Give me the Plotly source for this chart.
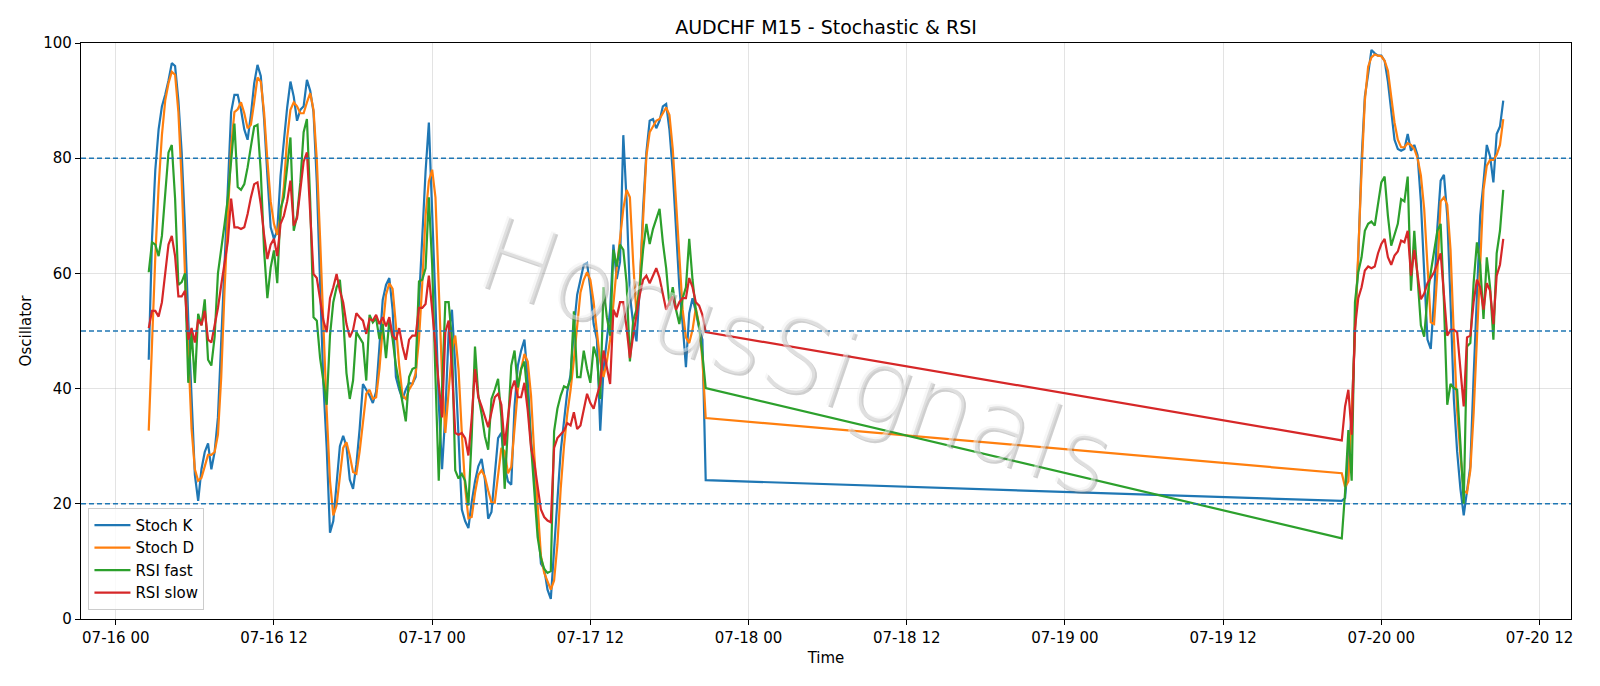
import pandas as pd
import plotly.graph_objects as go

# ---------------- data ----------------
seg1_start = "2020-07-16 02:30"
seg1_count = 170
seg2_start = "2020-07-19 21:00"
seg2_count = 50

stoch_k_1 = [
    45, 66, 78, 85, 89, 91, 93.5, 96.5, 96, 90,
    81, 68, 52, 39, 25, 20.5, 26, 29, 30.5, 26,
    29, 35, 48, 61, 75, 88, 91, 91, 88.4, 85,
    83.2, 87.5, 93, 96.2, 94.3, 86.8, 77, 68, 66, 67.4,
    77, 83.6, 88.8, 93.3, 90.7, 86.5, 88.4, 89, 93.6, 91.7,
    88, 75.8, 58.3, 40.8, 29.7, 15, 17, 23.3, 30, 31.8,
    30, 24.2, 22.6, 26.8, 33, 40.8, 39.8, 38.8, 37.5, 39.5,
    47.3, 55.4, 58, 59.2, 53.7, 42, 39.8, 38.2, 39.8, 41,
    40.8, 42, 55, 66.7, 77.7, 86.2, 72, 55, 37.5, 26,
    35.6, 49.8, 53.7, 44, 31.7, 19, 17, 15.8, 20.3, 23.9,
    26.5, 27.8, 24.2, 17.4, 18.6, 25.2, 31.4, 32.3, 26.5, 23.9,
    23.3, 36.9, 44, 46.6, 48.5, 41.7, 31, 25.2, 18, 9.6,
    8.7, 5.1, 3.5, 11.3, 20.6, 29.1, 34.6, 39.5, 42.4, 50.5,
    56.3, 58.9, 61.5, 61.8, 57.3, 51.2, 48.5, 32.7, 43.4, 48.5,
    53.7, 65, 59, 62, 84, 72.5, 56.3, 51.2, 48.2, 57.6,
    71.2, 81, 86.5, 86.8, 85.2, 86.5, 89, 89.4, 84.9, 77.7,
    68.6, 57.6, 51.2, 43.7, 53.1, 55.7, 53.4, 50.5, 48.5, 24.1,
]
stoch_k_2 = [
    20.5, 21, 28, 35.6, 49.8, 62.8, 79.7, 90.7, 94.6, 98.8,
    98.2, 97.8, 97.8, 96.9, 93.3, 87.8, 83.2, 81.6, 81.3, 81.6,
    84.2, 81.3, 82.3, 80.5, 72.5, 60.2, 48.5, 46.9, 55.7, 68,
    76.1, 77.1, 70, 55, 38.2, 29.1, 22.6, 18, 22.6, 26.5,
    42, 56.3, 70, 75.8, 82.3, 80.3, 75.8, 84.2, 85.5, 90,
]

stoch_d_1 = [
    32.7, 48, 63, 75, 84, 90, 93, 95, 94.5, 88,
    76, 60, 45, 33, 26, 24, 24.5, 26.5, 28.5, 28.5,
    29, 32, 42, 57, 70, 82, 88, 88.5, 89.7, 87.8,
    85.2, 85.8, 89.7, 94, 93.3, 88, 79.7, 72.5, 68.6, 66.7,
    70, 75, 83.5, 88.4, 89.7, 89, 87.8, 87.8, 89.7, 91.3,
    88.4, 79.7, 66, 50.5, 36.2, 24, 18, 19.7, 25.2, 29.7,
    30.7, 28.4, 25.5, 25.2, 29.1, 34.3, 39.1, 39.8, 38.2, 38.5,
    43.4, 50.5, 56.3, 58.3, 57.3, 51, 44, 38.8, 38.2, 39.8,
    40.8, 42.7, 48.5, 58.3, 70, 76, 78, 73.2, 56.3, 42,
    32.3, 38.8, 46.6, 49.2, 43.4, 32.3, 22.9, 17.5, 17.7, 21.9,
    25, 25.8, 24.7, 22.3, 20.2, 20.2, 25.5, 29.7, 29.1, 25.3,
    26.4, 32.7, 39.8, 43.4, 46, 44.7, 38.8, 28.4, 18.7, 11,
    8, 6.4, 5.1, 6.7, 12.9, 22.6, 30, 35.6, 39.8, 45,
    51.5, 56.7, 58.9, 60.2, 58.9, 55, 49.8, 44.7, 42, 44.7,
    48.5, 55, 61, 66, 71.2, 74.5, 73.2, 61.8, 52.8, 58.3,
    69.3, 80.3, 84.5, 85.5, 86.5, 86.8, 87.8, 88.8, 87.5, 81.6,
    72.5, 62.2, 53.7, 48.9, 47.9, 50.2, 54, 51, 45, 34.9,
]
stoch_d_2 = [
    25.3, 22.9, 23.9, 35.6, 49.8, 64.8, 77.7, 90, 95.9, 97.5,
    98, 97.8, 97.7, 96.9, 95.2, 90.7, 86.2, 83.2, 81.9, 81.9,
    82.6, 82.3, 81.6, 80, 77, 71.2, 61.5, 51.5, 51.2, 60.2,
    72.5, 73.2, 71.9, 64.1, 49.2, 36.2, 28.4, 22.3, 21.9, 25.8,
    35.6, 48.5, 64.1, 74.5, 78.7, 79.7, 79.7, 80.6, 82.3, 86.8,
]

rsi_fast_1 = [
    60.2, 65.4, 65, 63, 66.5, 74, 81, 82.3, 73, 58,
    58.5, 60, 41, 50, 41, 53, 51, 55.5, 45, 44,
    49, 60, 64, 68.5, 73, 80, 86, 75, 74.5, 75.5,
    78.4, 82, 85.5, 85.8, 77.7, 64, 55.7, 61, 64, 58.3,
    71.2, 73.2, 79, 83.6, 67.4, 70, 75.8, 84.5, 86.8, 72.5,
    52.4, 51.8, 45.3, 40.8, 37.2, 49.2, 55, 57.6, 58.9, 52.4,
    42.7, 38.2, 41.4, 49.8, 48.9, 47.9, 41.4, 52.8, 51.5, 52.2,
    48.6, 51.2, 45.3, 51.8, 48.6, 44, 40.8, 37.5, 34.3, 42,
    43.4, 43.7, 58.6, 58.9, 60.9, 73.2, 61.5, 42, 24, 40,
    55, 55, 48.5, 25.8, 24.4, 25.2, 24, 19.7, 31.7, 47.3,
    38.8, 35.6, 31.7, 29.4, 38.2, 39.8, 41.7, 35, 22.6, 33.6,
    44, 46.6, 40.2, 43.4, 44.7, 38.2, 29.7, 21, 14.2, 10.6,
    8.7, 8, 8.3, 32.6, 36.5, 38.8, 40.4, 40.1, 41.7, 53.4,
    42, 42, 46.6, 43.4, 41, 47.3, 45.3, 38.2, 57.6, 52.4,
    49.2, 64.1, 61.2, 65, 64.1, 58.3, 44.7, 51.8, 53.7, 57.6,
    64.1, 68.6, 65.1, 67.7, 69.6, 71.2, 65.4, 60.9, 54.4, 57.6,
    53.7, 51.2, 55.7, 57.6, 66, 58.9, 53.7, 50.8, 46, 40.1,
]
rsi_fast_2 = [
    14, 22, 32.8, 24, 55, 60.2, 62.8, 67.4, 68.6, 69,
    68.3, 71.9, 75.8, 76.8, 70, 64.8, 66.7, 68.6, 72.9, 72.5,
    76.8, 57, 67.4, 60, 51, 49, 56, 60.2, 63.5, 67.4,
    68.6, 55, 37.2, 40.8, 40.1, 39.8, 30.4, 20, 47.3, 47.9,
    58.3, 65.4, 61.5, 52.1, 62.8, 57.6, 48.5, 63.5, 67.4, 74.5,
]

rsi_slow_1 = [
    50.5, 53.5, 53.5, 52.5, 55, 60, 65, 66.5, 63, 56,
    56, 57, 48.5, 50.5, 48, 52, 51, 53.5, 48.5, 48,
    51, 54, 58, 61.5, 65.5, 73, 68, 68, 67.7, 68,
    70.3, 73.2, 75.5, 75.8, 72, 66.7, 62.5, 65, 66, 63,
    68.6, 70, 72.5, 76.1, 68.3, 69.6, 74.5, 79.4, 81, 70.6,
    59.9, 59.2, 55.7, 51.8, 49.8, 55.7, 57.6, 59.9, 57, 55,
    51.2, 48.9, 50.2, 53.1, 52.4, 51.8, 49.5, 52.1, 51.8, 52.8,
    51.2, 52.4, 50.8, 52.4, 49.2, 48.5, 50.5, 47.3, 45, 48.5,
    49.2, 49.2, 54, 54, 54.7, 59.6, 53.7, 46.6, 40.8, 35,
    49.8, 51.8, 43.4, 32.3, 32, 32.3, 31.4, 28.4, 34.9, 43.4,
    38.5, 36.9, 35, 33.3, 35.9, 38.5, 39.1, 37.2, 30.1, 35.3,
    39.8, 41.4, 38.5, 38.5, 41, 36.2, 29.7, 27.1, 22.6, 19,
    17.7, 17.1, 16.8, 29.7, 31.4, 32, 32.7, 34, 33.6, 35.9,
    33, 33.6, 36.5, 39.1, 37.5, 36.5, 38.8, 40.8, 46.6, 43.4,
    40.8, 53.7, 52.4, 55, 55, 50.5, 45.3, 49.2, 53.1, 56.3,
    58.9, 59.6, 58.3, 59.6, 60.9, 59.2, 56.3, 53.7, 55, 56,
    53.7, 55, 55.7, 55.7, 59.2, 57.6, 55, 54.4, 52.8, 49.8,
]
rsi_slow_2 = [
    31, 36.9, 39.8, 32, 50.5, 55.7, 57.6, 60.5, 61.2, 60.9,
    61.2, 63.5, 65.1, 66, 62.8, 61.5, 63.1, 63.8, 65.7, 65.4,
    67.4, 59.6, 64.1, 60.2, 55.5, 56.5, 58.3, 59.2, 60.2, 61.8,
    63.5, 56.3, 49.2, 50.2, 50.2, 49.8, 42.7, 36.9, 48.9, 49.2,
    55, 58.9, 57.6, 53.7, 58.3, 57, 51.2, 59.6, 61.5, 66,
]

levels = [20, 50, 80]
y_ticks = [0, 20, 40, 60, 80, 100]
title_text = "AUDCHF M15 - Stochastic & RSI"
watermark = "HorusSignals"

# ---------------- build ----------------
times = list(pd.date_range(seg1_start, periods=seg1_count, freq="15min")) + \
        list(pd.date_range(seg2_start, periods=seg2_count, freq="15min"))

series = [
    ("Stoch K", stoch_k_1 + stoch_k_2, "#1f77b4"),
    ("Stoch D", stoch_d_1 + stoch_d_2, "#ff7f0e"),
    ("RSI fast", rsi_fast_1 + rsi_fast_2, "#2ca02c"),
    ("RSI slow", rsi_slow_1 + rsi_slow_2, "#d62728"),
]

fig = go.Figure()
for name, vals, col in series:
    n = min(len(vals), len(times))
    fig.add_trace(go.Scatter(x=times[:n], y=vals[:n], mode="lines", name=name,
                             line=dict(color=col, width=2.2)))

span = times[-1] - times[0]
x_lo = times[0] - span * 0.05
x_hi = times[-1] + span * 0.05

font_family = "DejaVu Sans"
for lv in levels:
    fig.add_shape(type="line", xref="paper", yref="y", x0=0, x1=1, y0=lv, y1=lv,
                  line=dict(color="#1f77b4", width=1.4, dash="5px,3px"), layer="above")

# watermark: faint shadow + translucent light face
fig.add_annotation(text=watermark, xref="paper", yref="paper", x=0.48, y=0.455,
                   xanchor="center", yanchor="middle", showarrow=False, textangle=19,
                   xshift=2, yshift=-2,
                   font=dict(family=font_family, size=102, color="rgba(110,110,110,0.33)", weight=200))
fig.add_annotation(text=watermark, xref="paper", yref="paper", x=0.48, y=0.455,
                   xanchor="center", yanchor="middle", showarrow=False, textangle=19,
                   font=dict(family=font_family, size=102, color="rgba(240,240,240,0.5)", weight=200))

fig.update_layout(
    width=1600, height=686,
    margin=dict(l=81, r=29, t=43, b=67),
    paper_bgcolor="white", plot_bgcolor="white",
    font=dict(family=font_family, size=15, color="black"),
    title=dict(text=title_text, x=0.5, xref="paper", xanchor="center",
               y=1 - 27 / 686, yref="container", yanchor="middle",
               font=dict(size=19, family=font_family, color="black")),
    showlegend=True,
    legend=dict(x=0.005, y=0.016, xanchor="left", yanchor="bottom",
                bgcolor="rgba(255,255,255,0.8)", bordercolor="#cccccc", borderwidth=1,
                font=dict(size=15, family=font_family), tracegroupgap=0,
                itemwidth=36),
)
fig.update_xaxes(
    type="date", range=[x_lo, x_hi], tickformat="%m-%d %H",
    tick0="2020-07-16 00:00", dtick=12 * 3600 * 1000,
    showgrid=True, gridcolor="rgba(176,176,176,0.35)", gridwidth=1,
    showline=True, mirror=True, linecolor="black", linewidth=1.2,
    ticks="outside", ticklen=5, tickwidth=1.2, tickcolor="black",
    zeroline=False,
    title=dict(text="Time", standoff=6, font=dict(size=15)),
)
fig.update_yaxes(
    range=[0, 100], tickvals=y_ticks,
    showgrid=True, gridcolor="rgba(176,176,176,0.35)", gridwidth=1,
    showline=True, mirror=True, linecolor="black", linewidth=1.2,
    ticks="outside", ticklen=5, tickwidth=1.2, tickcolor="black",
    zeroline=False,
    title=dict(text="Oscillator", standoff=8, font=dict(size=15)),
)

fig.write_html("out.html")
